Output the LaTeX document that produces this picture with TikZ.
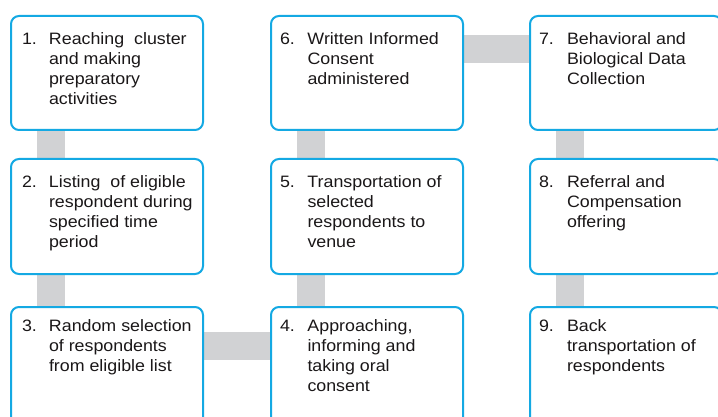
\documentclass[tikz,border=0pt]{standalone}
\usepackage{fontspec}
\setmainfont[FakeStretch=1.08]{Liberation Sans}
\usetikzlibrary{backgrounds}
\definecolor{boxblue}{HTML}{14A9E3}
\definecolor{conngray}{HTML}{D1D2D4}
\definecolor{txt}{HTML}{1A1718}
% #1 number, #2 text lines, #3 box height, #4 top space, #5 number indent, #6 text indent
\newcommand\stepcontent[6]{%
  \begin{minipage}[t][#3][t]{192pt}%
    \fontsize{16.5}{20}\selectfont\color{txt}%
    \vspace*{#4}%
    \hspace*{#5}\makebox[\dimexpr#6-#5\relax][l]{#1}\parbox[t]{155pt}{\raggedright #2}%
  \end{minipage}}
\tikzset{
  stepbox/.style={draw=boxblue, line width=2pt, rounded corners=8pt, fill=white,
    inner sep=0pt, outer sep=0pt, anchor=north west},
  conn/.style={draw=conngray, line width=28pt}
}
\begin{document}
\begin{tikzpicture}[x=1pt,y=-1pt]
\useasboundingbox (0,0) rectangle (718,417);
\clip (0,0) rectangle (718,417);
% column 1
\node[stepbox] (b1) at (11,16) {\stepcontent{1.}{Reaching\ \ cluster\\and making\\preparatory\\activities}{114pt}{16.5pt}{11pt}{38pt}};
\node[stepbox] (b2) at (11,159) {\stepcontent{2.}{Listing\ \ of eligible\\respondent during\\specified time\\period}{115pt}{17pt}{11pt}{38pt}};
\node[stepbox] (b3) at (11,307) {\stepcontent{3.}{Random selection\\of respondents\\from eligible list}{125pt}{13pt}{11pt}{38pt}};
% column 2
\node[stepbox] (b6) at (271,16) {\stepcontent{6.}{Written Informed\\Consent\\administered}{114pt}{16.5pt}{9pt}{36.5pt}};
\node[stepbox] (b5) at (271,159) {\stepcontent{5.}{Transportation of\\selected\\respondents to\\venue}{115pt}{17pt}{9pt}{36.5pt}};
\node[stepbox] (b4) at (271,307) {\stepcontent{4.}{Approaching,\\informing and\\taking oral\\consent}{125pt}{13pt}{9pt}{36.5pt}};
% column 3
\node[stepbox] (b7) at (530,16) {\stepcontent{7.}{Behavioral and\\Biological Data\\Collection}{114pt}{16.5pt}{9pt}{37pt}};
\node[stepbox] (b8) at (530,159) {\stepcontent{8.}{Referral and\\Compensation\\offering}{115pt}{17pt}{9pt}{37pt}};
\node[stepbox] (b9) at (530,307) {\stepcontent{9.}{Back\\transportation of\\respondents}{125pt}{13pt}{9pt}{37pt}};
% connectors (behind boxes)
\begin{scope}[on background layer]
\draw[conn] ([xshift=40pt]b1.south west) -- ([xshift=40pt]b2.north west);
\draw[conn] ([xshift=40pt]b2.south west) -- ([xshift=40pt]b3.north west);
\draw[conn] ([yshift=-38.5pt]b3.north east) -- ([yshift=-38.5pt]b4.north west);
\draw[conn] ([xshift=40pt]b4.north west) -- ([xshift=40pt]b5.south west);
\draw[conn] ([xshift=40pt]b5.north west) -- ([xshift=40pt]b6.south west);
\draw[conn] ([yshift=-33pt]b6.north east) -- ([yshift=-33pt]b7.north west);
\draw[conn] ([xshift=40pt]b7.south west) -- ([xshift=40pt]b8.north west);
\draw[conn] ([xshift=40pt]b8.south west) -- ([xshift=40pt]b9.north west);
\end{scope}
\end{tikzpicture}
\end{document}
